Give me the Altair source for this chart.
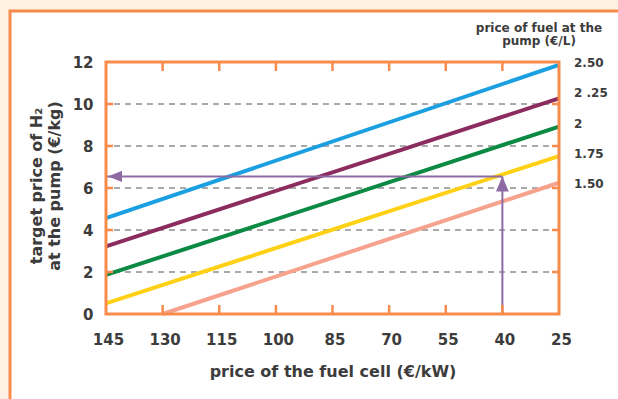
import altair as alt
import pandas as pd

# ---- data -----------------------------------------------------------------
fuel_prices = ["2.50", "2 .25", "2", "1.75", "1.50"]
colors = ["#1a9fe0", "#8c2b5e", "#0b8a43", "#ffd116", "#f6a28c"]

# each series is a straight line: (fuel-cell price start, H2 price start) -> (end)
x_start = [145, 145, 145, 145, 130]
y_start = [4.57, 3.22, 1.86, 0.51, 0.0]
x_end = [25, 25, 25, 25, 25]
y_end = [11.86, 10.27, 8.92, 7.52, 6.25]

# vertical placement of the series labels on the right
label_y = [11.95, 10.52, 9.05, 7.62, 6.19]

x_ticks = [145, 130, 115, 100, 85, 70, 55, 40, 25]
y_ticks = [0, 2, 4, 6, 8, 10, 12]
grid_y = [2, 4, 6, 8, 10]
inner_x_ticks = [130, 115, 100, 85, 70, 55, 40]

# reading example: fuel cell at 40 EUR/kW -> target H2 price
example_x = 40
example_y = 6.55

FONT = "DejaVu Sans, Roboto, sans-serif"
TEXT = "#3c3c3c"
ORANGE = "#f68b4c"
ARROW = "#8d6aa3"
W, H = 453, 252

rows = []
for name, xs, ys, xe, ye in zip(fuel_prices, x_start, y_start, x_end, y_end):
    rows.append({"fuel": name, "cell": xs, "h2": ys})
    rows.append({"fuel": name, "cell": xe, "h2": ye})
lines_df = pd.DataFrame(rows)

xscale = alt.Scale(domain=[25, 145], reverse=True, nice=False, zero=False)
yscale = alt.Scale(domain=[0, 12], nice=False)

one = alt.Data(values=[{"k": 1}])

# white panel with orange border, running off the right and bottom edges
panel = alt.Chart(one).mark_rect(
    fill="white", stroke=ORANGE, strokeWidth=3, clip=False
).encode(
    x=alt.value(-96), x2=alt.value(W + 300),
    y=alt.value(-51), y2=alt.value(H + 300),
)

grid = alt.Chart(pd.DataFrame({"v": grid_y})).mark_rule(
    color="#555555", strokeWidth=1, strokeDash=[6, 5]
).encode(
    y=alt.Y("v:Q", scale=yscale),
    x=alt.value(8), x2=alt.value(W),
)

series = alt.Chart(lines_df).mark_line(strokeWidth=4).encode(
    x=alt.X(
        "cell:Q", scale=xscale,
        axis=alt.Axis(
            values=x_ticks, ticks=False, domain=False, grid=False, zindex=5,
            labelFont=FONT, labelFontSize=15, labelFontWeight="bold",
            labelColor=TEXT, labelPadding=18, labelFlush=False, labelOffset=2,
            title="price of the fuel cell (€/kW)", titleFont=FONT,
            titleFontSize=16, titleFontWeight="bold", titleColor=TEXT,
            titleBaseline="middle", titleY=57,
        ),
    ),
    y=alt.Y(
        "h2:Q", scale=yscale,
        axis=alt.Axis(
            values=y_ticks, ticks=False, domain=False, grid=False, zindex=5,
            labelFont=FONT, labelFontSize=15, labelFontWeight="bold",
            labelColor=TEXT, labelPadding=13, labelFlush=False, title=None,
        ),
    ),
    color=alt.Color("fuel:N", scale=alt.Scale(domain=fuel_prices, range=colors), legend=None),
    detail="fuel:N",
)

frame = alt.Chart(one).mark_rect(
    fill=None, stroke=ORANGE, strokeWidth=3, clip=False
).encode(x=alt.value(0), x2=alt.value(W), y=alt.value(0), y2=alt.value(H))

xt = pd.DataFrame({"v": inner_x_ticks})
top_ticks = alt.Chart(xt).mark_rule(color=ORANGE, strokeWidth=2.5).encode(
    x=alt.X("v:Q", scale=xscale), y=alt.value(0), y2=alt.value(9)
)
bottom_ticks = alt.Chart(xt).mark_rule(color=ORANGE, strokeWidth=2.5).encode(
    x=alt.X("v:Q", scale=xscale), y=alt.value(H), y2=alt.value(H - 9)
)
yt = pd.DataFrame({"v": grid_y})
left_ticks = alt.Chart(yt).mark_rule(color=ORANGE, strokeWidth=2.5).encode(
    y=alt.Y("v:Q", scale=yscale), x=alt.value(0), x2=alt.value(7)
)
right_ticks = alt.Chart(yt).mark_rule(color=ORANGE, strokeWidth=2.5).encode(
    y=alt.Y("v:Q", scale=yscale), x=alt.value(W), x2=alt.value(W - 7)
)

# reading arrows
ex = pd.DataFrame({"x": [example_x], "y0": [0], "y": [example_y], "xl": [145]})
v_line = alt.Chart(ex).mark_rule(color=ARROW, strokeWidth=2).encode(
    x=alt.X("x:Q", scale=xscale), y=alt.Y("y0:Q", scale=yscale), y2="y:Q"
)
h_line = alt.Chart(ex).mark_rule(color=ARROW, strokeWidth=2).encode(
    y=alt.Y("y:Q", scale=yscale), x=alt.X("x:Q", scale=xscale), x2="xl:Q"
)
up_head = alt.Chart(ex).mark_point(
    shape="M0,0L-0.85,2L0.85,2Z", size=225, filled=True, opacity=1, color=ARROW
).encode(x=alt.X("x:Q", scale=xscale), y=alt.Y("y:Q", scale=yscale))
left_head = alt.Chart(ex).mark_point(
    shape="M0,0L2,-0.8L2,0.8Z", size=196, filled=True, opacity=1, color=ARROW
).encode(x=alt.X("xl:Q", scale=xscale), y=alt.Y("y:Q", scale=yscale), xOffset=alt.value(2))

# series labels on the right
lab = pd.DataFrame({"t": fuel_prices, "y": label_y, "x": [25] * 5})
right_labels = alt.Chart(lab).mark_text(
    align="left", baseline="middle", dx=15, font=FONT, fontSize=12,
    fontWeight="bold", color=TEXT,
).encode(x=alt.X("x:Q", scale=xscale), y=alt.Y("y:Q", scale=yscale), text="t:N")

header = alt.Chart(pd.DataFrame({"t": ["price of fuel at the", "pump (€/L)"], "yy": [-34, -21]})).mark_text(
    align="center", baseline="middle", font=FONT, fontSize=12,
    fontWeight="bold", color=TEXT,
).encode(x=alt.value(433), y=alt.Y("yy:Q", scale=None), text="t:N")

ytitle = alt.Chart(pd.DataFrame({"t": ["target price of H₂", "at the pump (€/kg)"], "xx": [-69, -51]})).mark_text(
    align="center", baseline="middle", angle=270, font=FONT, fontSize=16,
    fontWeight="bold", color=TEXT,
).encode(x=alt.X("xx:Q", scale=None), y=alt.value(124), text="t:N")

chart = alt.layer(
    panel, grid, series, v_line, h_line, up_head, left_head,
    frame, top_ticks, bottom_ticks, left_ticks, right_ticks,
    right_labels, header, ytitle,
).properties(
    width=W, height=H,
    padding={"left": 106, "top": 62, "right": 59, "bottom": 85},
    autosize=alt.AutoSizeParams(type="none"),
    background="#fef1e4",
).configure_view(stroke=None)

chart.save("out.html", embed_options={"renderer": "svg", "actions": False})
